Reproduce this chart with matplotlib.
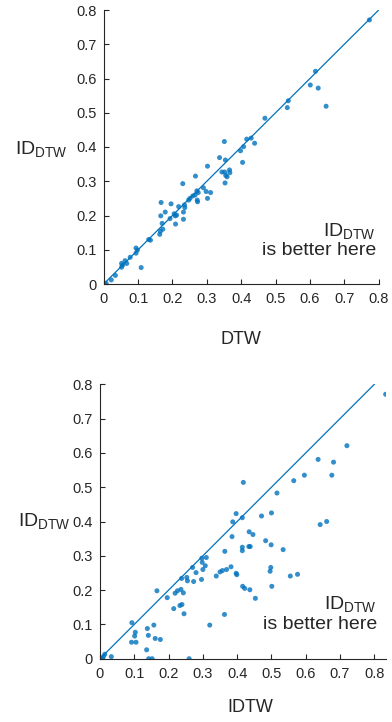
import matplotlib
matplotlib.use("Agg")
import matplotlib.pyplot as plt

plt.rcParams['font.family'] = ['Liberation Sans', 'DejaVu Sans']
plt.rcParams['mathtext.fontset'] = 'custom'
plt.rcParams['mathtext.rm'] = 'Liberation Sans'

# top panel: DTW vs ID_DTW
dtw_x = [0.773, 0.616, 0.601, 0.624, 0.647, 0.537, 0.534, 0.469, 0.351, 0.416,
         0.429, 0.439, 0.407, 0.398, 0.404, 0.337, 0.354, 0.302, 0.344, 0.352,
         0.366, 0.367, 0.355, 0.359, 0.353, 0.267, 0.230, 0.290, 0.298, 0.311,
         0.302, 0.271, 0.275, 0.266, 0.259, 0.251, 0.247, 0.272, 0.273, 0.167,
         0.196, 0.218, 0.235, 0.232, 0.236, 0.179, 0.166, 0.205, 0.208, 0.212,
         0.193, 0.232, 0.170, 0.209, 0.172, 0.165, 0.163, 0.131, 0.136, 0.094,
         0.098, 0.094, 0.109, 0.077, 0.062, 0.067, 0.055, 0.052, 0.034, 0.022,
         0.007, 0.000, 0.002, 0.052]
dtw_y = [0.771, 0.621, 0.581, 0.572, 0.519, 0.535, 0.515, 0.484, 0.416, 0.423,
         0.426, 0.411, 0.401, 0.389, 0.355, 0.369, 0.362, 0.344, 0.327, 0.327,
         0.333, 0.325, 0.317, 0.313, 0.295, 0.315, 0.293, 0.281, 0.270, 0.267,
         0.250, 0.272, 0.267, 0.260, 0.257, 0.250, 0.245, 0.245, 0.240, 0.238,
         0.234, 0.226, 0.231, 0.210, 0.223, 0.210, 0.199, 0.205, 0.199, 0.201,
         0.191, 0.189, 0.177, 0.175, 0.160, 0.154, 0.145, 0.130, 0.128, 0.105,
         0.099, 0.090, 0.048, 0.078, 0.068, 0.060, 0.055, 0.049, 0.025, 0.012,
         0.002, 0.000, 0.000, 0.060]

# bottom panel: IDTW vs ID_DTW
idtw_x = [0.833, 0.720, 0.636, 0.681, 0.676, 0.596, 0.565, 0.516, 0.418, 0.397,
          0.500, 0.471, 0.415, 0.387, 0.642, 0.661, 0.435, 0.446, 0.385, 0.483,
          0.499, 0.434, 0.438, 0.415, 0.415, 0.534, 0.364, 0.310, 0.297, 0.298,
          0.307, 0.270, 0.498, 0.300, 0.496, 0.369, 0.357, 0.350, 0.382, 0.280,
          0.397, 0.399, 0.339, 0.555, 0.576, 0.238, 0.253, 0.255, 0.273, 0.296,
          0.416, 0.422, 0.437, 0.501, 0.236, 0.226, 0.219, 0.243, 0.166, 0.196,
          0.453, 0.239, 0.233, 0.215, 0.245, 0.363, 0.320, 0.157, 0.093, 0.103,
          0.101, 0.138, 0.141, 0.161, 0.176, 0.092, 0.105, 0.136, 0.142, 0.152,
          0.260, 0.033, 0.014, 0.010, 0.000, 0.007]
idtw_y = [0.771, 0.621, 0.581, 0.573, 0.535, 0.535, 0.519, 0.483, 0.514, 0.423,
          0.425, 0.416, 0.411, 0.399, 0.391, 0.400, 0.370, 0.362, 0.356, 0.344,
          0.332, 0.327, 0.327, 0.325, 0.315, 0.318, 0.313, 0.295, 0.293, 0.281,
          0.271, 0.266, 0.266, 0.260, 0.255, 0.260, 0.257, 0.253, 0.268, 0.251,
          0.249, 0.245, 0.241, 0.241, 0.246, 0.234, 0.237, 0.227, 0.225, 0.231,
          0.211, 0.205, 0.201, 0.211, 0.202, 0.198, 0.191, 0.192, 0.198, 0.178,
          0.176, 0.158, 0.155, 0.146, 0.131, 0.129, 0.098, 0.098, 0.105, 0.077,
          0.066, 0.088, 0.068, 0.059, 0.056, 0.048, 0.048, 0.026, 0.000, 0.000,
          0.000, 0.006, 0.013, 0.006, 0.000, 0.000]

ticks = [0, 0.1, 0.2, 0.3, 0.4, 0.5, 0.6, 0.7, 0.8]
tick_labels = ['0', '0.1', '0.2', '0.3', '0.4', '0.5', '0.6', '0.7', '0.8']
blue = '#0072BD'
dark = '#262626'
W, H = 392, 722

fig = plt.figure(figsize=(W / 100, H / 100), dpi=100)


def panel(rect, x, y, xmax):
    ax = fig.add_axes(rect)
    ax.plot([0, 0.8], [0, 0.8], color=blue, lw=0.9, zorder=1)
    ax.scatter(x, y, s=13, color=blue, alpha=0.8, edgecolors='none', zorder=2)
    ax.set_xlim(0, xmax)
    ax.set_ylim(0, 0.8)
    ax.set_xticks(ticks)
    ax.set_xticklabels(tick_labels)
    ax.set_yticks(ticks)
    ax.set_yticklabels(tick_labels)
    for s in ['top', 'right']:
        ax.spines[s].set_visible(False)
    for s in ['left', 'bottom']:
        ax.spines[s].set_color(dark)
        ax.spines[s].set_linewidth(0.8)
    ax.tick_params(direction='in', length=3.5, width=0.8, colors=dark,
                   labelsize=10.5)
    ax.tick_params(axis='x', pad=6)
    ax.tick_params(axis='y', pad=5)
    ax.patch.set_alpha(0)
    return ax


def ftext(px, py, s, **kw):
    fig.text(px / W, 1 - py / H, s, color=dark, **kw)


ax1 = panel([103.7 / W, 1 - 284 / H, 275 / W, 274 / H], dtw_x, dtw_y, 0.8)
ax2 = panel([100 / W, 1 - 658.7 / H, 286 / W, 274.4 / H], idtw_x, idtw_y, 0.834)

idd = r'$\mathrm{ID}_{\mathrm{DTW}}$'

# top labels
ftext(41, 150, idd, fontsize=14, ha='center', va='center')
ftext(241, 340, 'DTW', fontsize=13, ha='center', va='center')
ftext(376, 237, idd, fontsize=14, ha='right', va='baseline')
ftext(376, 255, 'is better here', fontsize=14, ha='right', va='baseline')

# bottom labels
ftext(44, 522, idd, fontsize=14, ha='center', va='center')
ftext(250, 708, 'IDTW', fontsize=13, ha='center', va='center')
ftext(377, 610, idd, fontsize=14, ha='right', va='baseline')
ftext(377, 629, 'is better here', fontsize=14, ha='right', va='baseline')

fig.savefig('out.png', dpi=100)
